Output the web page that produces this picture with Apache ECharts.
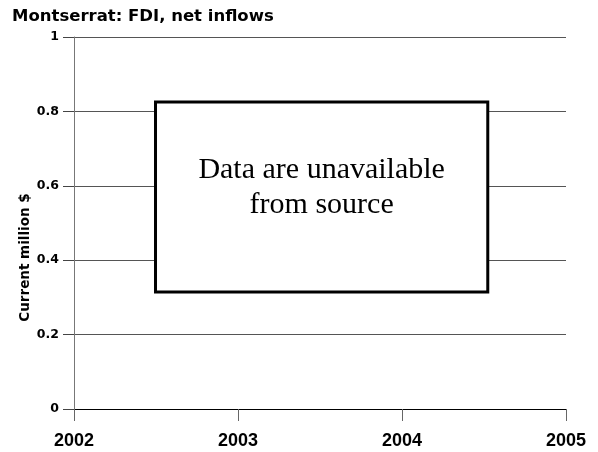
<!DOCTYPE html>
<html><head><meta charset="utf-8">
<script src="https://cdn.jsdelivr.net/npm/echarts@6/dist/echarts.min.js"></script>
<style>html,body{margin:0;padding:0;background:#fff}#c{width:598px;height:452px}</style>
</head><body><div id="c"></div>
<script>
const titleText = "Montserrat: FDI, net inflows";
const yAxisName = "Current million $";
const xTicks = [2002, 2003, 2004, 2005];
const yTicks = [0, 0.2, 0.4, 0.6, 0.8, 1];
const noticeText = "Data are unavailable\nfrom source";
const noticeBoxX = [2002.497, 2004.523];
const noticeBoxY = [0.825, 0.3145];

const chart = echarts.init(document.getElementById('c'));
chart.setOption({
  animation: false,
  backgroundColor: '#fff',
  title: {
    text: titleText, left: 7, top: 3,
    textStyle: { fontFamily: 'DejaVu Sans, sans-serif', fontWeight: 'bold', fontSize: 16.5, color: '#000' }
  },
  grid: { left: 74, right: 32, top: 37, bottom: 43 },
  xAxis: {
    type: 'value', min: xTicks[0], max: xTicks[xTicks.length - 1], interval: 1,
    axisLine: { show: true, lineStyle: { color: '#000', width: 1 } },
    axisTick: { show: true, length: 12, lineStyle: { color: '#666' } },
    splitLine: { show: false },
    axisLabel: { margin: 23, fontFamily: 'Liberation Sans, Arial, sans-serif', fontWeight: 'bold', fontSize: 18, color: '#000', formatter: v => String(v) }
  },
  yAxis: {
    type: 'value', min: yTicks[0], max: yTicks[yTicks.length - 1], interval: 0.2,
    axisLine: { show: true, lineStyle: { color: '#777', width: 1 } },
    axisTick: { show: true, length: 11, lineStyle: { color: '#444' } },
    splitLine: { show: true, lineStyle: { color: '#555', width: 1 } },
    axisLabel: { margin: 15, fontFamily: 'DejaVu Sans, sans-serif', fontWeight: 'bold', fontSize: 12.5, color: '#000',
      formatter: v => (v === 0 || v === 1) ? String(v) : v.toFixed(1) }
  },
  graphic: [{
    type: 'text', x: 25.5, y: 257.5, rotation: Math.PI / 2,
    style: { text: yAxisName, font: 'bold 13.5px "DejaVu Sans", sans-serif', fill: '#000', align: 'center', verticalAlign: 'middle' }
  }],
  series: [{
    type: 'line', data: [], silent: true,
    markArea: {
      silent: true,
      itemStyle: { color: '#fff', borderColor: '#000', borderWidth: 3, opacity: 1 },
      label: {
        show: true, position: 'inside', color: '#000',
        fontFamily: 'Liberation Serif, Times New Roman, serif', fontSize: 30, lineHeight: 35,
        align: 'center', verticalAlign: 'middle', offset: [0, -9]
      },
      data: [[
        { name: noticeText, coord: [noticeBoxX[0], noticeBoxY[0]] },
        { coord: [noticeBoxX[1], noticeBoxY[1]] }
      ]]
    }
  }]
});
</script></body></html>
